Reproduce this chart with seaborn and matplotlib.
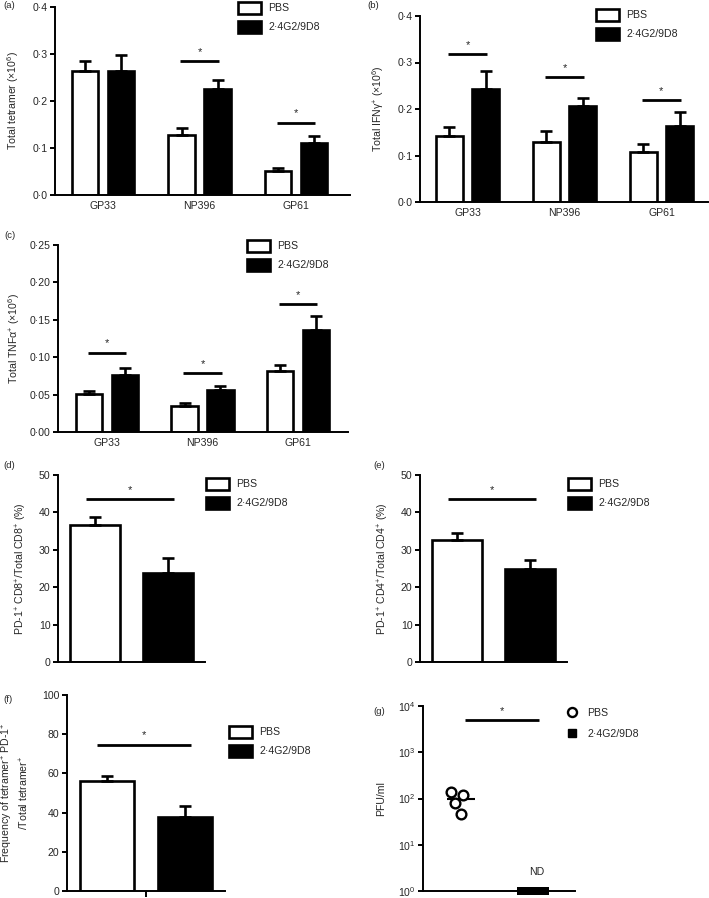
import numpy as np
import pandas as pd
import matplotlib
matplotlib.use('Agg')
import matplotlib.pyplot as plt
from matplotlib.patches import Patch
from matplotlib.lines import Line2D
from matplotlib.ticker import NullLocator
import seaborn as sns

sns.set_theme(style='ticks')
plt.rcParams['font.family'] = ['Liberation Sans', 'DejaVu Sans']
plt.rcParams['mathtext.fontset'] = 'custom'
plt.rcParams['mathtext.rm'] = 'Liberation Sans'
plt.rcParams['mathtext.it'] = 'Liberation Sans:italic'
plt.rcParams['mathtext.default'] = 'regular'

# --- data ---
groups = ['PBS', '2·4G2/9D8']
epitopes = ['GP33', 'NP396', 'GP61']

tet_pbs = [0.264, 0.128, 0.052]
tet_pbs_sem = [0.021, 0.014, 0.006]
tet_trt = [0.263, 0.226, 0.110]
tet_trt_sem = [0.034, 0.018, 0.016]
tet_sig = {'NP396': 0.285, 'GP61': 0.154}

ifn_pbs = [0.142, 0.130, 0.107]
ifn_pbs_sem = [0.019, 0.023, 0.018]
ifn_trt = [0.244, 0.206, 0.163]
ifn_trt_sem = [0.038, 0.018, 0.031]
ifn_sig = {'GP33': 0.318, 'NP396': 0.269, 'GP61': 0.219}

tnf_pbs = [0.051, 0.035, 0.081]
tnf_pbs_sem = [0.0035, 0.004, 0.009]
tnf_trt = [0.076, 0.056, 0.136]
tnf_trt_sem = [0.010, 0.006, 0.019]
tnf_sig = {'GP33': 0.106, 'NP396': 0.079, 'GP61': 0.171}

cd8_vals = [36.7, 23.7]
cd8_sem = [2.2, 4.1]
cd4_vals = [32.6, 24.9]
cd4_sem = [1.8, 2.3]
tetpd1_vals = [56.1, 37.9]
tetpd1_sem = [2.6, 5.5]
sig_d, sig_e, sig_f = 43.5, 43.5, 74.7

pfu_pbs = [139, 122, 78, 46]
pfu_trt = [1, 1, 1, 1]   # not detected, drawn at the detection floor
sig_g = 5000

ticks_tet = [0, 0.1, 0.2, 0.3, 0.4]
ticks_tnf = [0, 0.05, 0.10, 0.15, 0.20, 0.25]
ticks_pct50 = [0, 10, 20, 30, 40, 50]
ticks_pct100 = [0, 20, 40, 60, 80, 100]

W, H = 709, 898
pal = {groups[0]: 'white', groups[1]: 'black'}
LW = 1.9
FS = 7.6

fig = plt.figure(figsize=(W / 100, H / 100), dpi=100)


def rect(l, r, t, b):
    return [l / W, 1 - b / H, (r - l) / W, (b - t) / H]


def dot_labels(ticks, nd):
    return [f'{t:.{nd}f}'.replace('.', '·') for t in ticks]


def style_axis(ax, ylabel, labelpad=4):
    sns.despine(ax=ax)
    for s in ('left', 'bottom'):
        ax.spines[s].set_linewidth(1.4)
        ax.spines[s].set_color('black')
    ax.tick_params(axis='y', direction='out', length=3.5, width=1.4,
                   labelsize=FS, pad=2, color='black')
    ax.tick_params(axis='x', direction='out', length=4, width=1.4,
                   labelsize=FS, pad=2, color='black')
    ax.set_ylabel(ylabel, fontsize=FS, labelpad=labelpad)
    ax.set_xlabel('')
    ax.set_facecolor('none')


def bars(ax, cats, pbs, pbs_err, trt, trt_err, width, gap):
    df = pd.DataFrame({
        'cat': list(cats) * 2,
        'group': [groups[0]] * len(cats) + [groups[1]] * len(cats),
        'val': list(pbs) + list(trt),
    })
    sns.barplot(data=df, x='cat', y='val', hue='group', hue_order=groups,
                palette=pal, width=width, gap=gap, edgecolor='black',
                linewidth=LW, errorbar=None, legend=False, ax=ax)
    for cont, err in zip(ax.containers, [pbs_err, trt_err]):
        xs = [b.get_x() + b.get_width() / 2 for b in cont]
        ys = [b.get_height() for b in cont]
        ax.errorbar(xs, ys, yerr=[np.zeros(len(err)), err], fmt='none',
                    ecolor='black', elinewidth=LW, capsize=4.5,
                    capthick=LW, zorder=1)


def sig(ax, x0, x1, y):
    ax.plot([x0, x1], [y, y], color='black', lw=2, solid_capstyle='butt',
            clip_on=False)
    ax.annotate('*', ((x0 + x1) / 2, y), xytext=(0, 3),
                textcoords='offset points', ha='center', va='bottom',
                fontsize=8, annotation_clip=False)


def bar_legend(ax, px, py):
    handles = [Patch(facecolor=pal[g], edgecolor='black', linewidth=LW)
               for g in groups]
    ax.legend(handles=handles, labels=groups, loc='upper left',
              bbox_to_anchor=(px / W, 1 - py / H),
              bbox_transform=fig.transFigure, frameon=False, fontsize=FS,
              handlelength=2.15, handleheight=1.35, handletextpad=0.75,
              labelspacing=0.66, borderpad=0, borderaxespad=0)


def panel_label(px, py, s):
    fig.text(px / W, 1 - py / H, s, fontsize=6.8, va='center', ha='left')


# --- (a)-(c): grouped bars ---
grouped = [
    ('(a)', rect(55, 350, 7, 195), (-0.5, 2.56), tet_pbs, tet_pbs_sem,
     tet_trt, tet_trt_sem, tet_sig, ticks_tet, 1, 0.4,
     'Total tetramer (×10$^{6}$)', (238, 2), (3, 5), 8),
    ('(b)', rect(420, 708, 16, 202), (-0.49, 2.48), ifn_pbs, ifn_pbs_sem,
     ifn_trt, ifn_trt_sem, ifn_sig, ticks_tet, 1, 0.4,
     'Total IFNγ$^{+}$ (×10$^{6}$)', (596, 9), (367, 5), 8),
    ('(c)', rect(58, 348, 245, 432), (-0.51, 2.52), tnf_pbs, tnf_pbs_sem,
     tnf_trt, tnf_trt_sem, tnf_sig, ticks_tnf, 2, 0.25,
     'Total TNFα$^{+}$ (×10$^{6}$)', (247, 240), (4, 235), 5),
]
for lab, r, xl, p, pe, t, te, sg, tk, nd, ymax, ylab, lpos, ppos, lp in grouped:
    ax = fig.add_axes(r)
    bars(ax, epitopes, p, pe, t, te, width=0.75, gap=0.27)
    for cat, yv in sg.items():
        i = epitopes.index(cat)
        sig(ax, i - 0.2, i + 0.2, yv)
    ax.set_xlim(*xl)
    ax.set_ylim(0, ymax)
    ax.set_yticks(tk, labels=dot_labels(tk, nd))
    style_axis(ax, ylab, labelpad=lp)
    ax.tick_params(axis='x', length=0, pad=4)
    bar_legend(ax, *lpos)
    panel_label(*ppos, lab)

# --- (d)-(f): two-bar panels ---
single = [
    ('(d)', rect(58, 205, 475, 662), (-0.4, 0.4), cd8_vals, cd8_sem, sig_d,
     ticks_pct50, 'PD-1$^{+}$ CD8$^{+}$/Total CD8$^{+}$ (%)', (206, 478),
     (3, 465), 0.32, False, 7),
    ('(e)', rect(420, 567, 475, 662), (-0.4, 0.4), cd4_vals, cd4_sem, sig_e,
     ticks_pct50, 'PD-1$^{+}$ CD4$^{+}$/Total CD4$^{+}$ (%)', (568, 478),
     (373, 465), 0.32, False, 7),
    ('(f)', rect(67, 225, 695, 891), (-0.405, 0.405), tetpd1_vals, tetpd1_sem,
     sig_f, ticks_pct100,
     'Frequency of tetramer$^{+}$ PD-1$^{+}$\n/Total tetramer$^{+}$',
     (229, 726), (3, 699), 0.31, True, 8),
]
for lab, r, xl, vals, sems, sy, tk, ylab, lpos, ppos, gp, xtick, lp in single:
    ax = fig.add_axes(r)
    bars(ax, [''], vals[:1], sems[:1], vals[1:], sems[1:], width=0.8, gap=gp)
    sig(ax, -0.25, 0.23, sy)
    ax.set_xlim(*xl)
    ax.set_ylim(0, tk[-1])
    ax.set_yticks(tk, labels=[str(t) for t in tk])
    style_axis(ax, ylab, labelpad=lp)
    if not xtick:
        ax.tick_params(axis='x', length=0)
    ax.set_xticklabels([''])
    bar_legend(ax, *lpos)
    panel_label(*ppos, lab)

# --- (g): virus titre ---
axg = fig.add_axes(rect(423, 575, 706, 891))
axg.set_yscale('log')
axg.set_ylim(1, 1e4)
axg.set_xlim(-0.5, 1.5)
df_p = pd.DataFrame({'group': groups[0], 'pfu': pfu_pbs})
df_t = pd.DataFrame({'group': groups[1], 'pfu': pfu_trt})
sns.swarmplot(data=df_p, x='group', y='pfu', order=groups, marker='o',
              color='white', edgecolor='black', linewidth=1.7, size=7,
              ax=axg, zorder=3)
sns.swarmplot(data=df_t, x='group', y='pfu', order=groups, marker='s',
              color='black', size=5.5, linewidth=0, ax=axg, clip_on=False,
              zorder=4)
axg.hlines(np.mean(pfu_pbs), -0.18, 0.18, color='black', lw=1.5, zorder=2)
axg.text(1, 2.6, 'ND', ha='center', va='center', fontsize=FS)
sig(axg, 0.05, 1.03, sig_g)
axg.set_xlim(-0.5, 1.5)
axg.set_ylim(1, 1e4)
axg.yaxis.set_minor_locator(NullLocator())
style_axis(axg, 'PFU/ml', labelpad=8)
axg.tick_params(axis='x', length=0)
axg.set_xticklabels(['', ''])
g_handles = [
    Line2D([], [], ls='none', marker='o', mfc='white', mec='black',
           mew=1.7, ms=6.5),
    Line2D([], [], ls='none', marker='s', color='black', ms=5.5),
]
axg.legend(handles=g_handles, labels=groups, loc='upper left',
           bbox_to_anchor=(567 / W, 1 - 708 / H),
           bbox_transform=fig.transFigure, frameon=False, fontsize=FS,
           handlelength=1.0, handletextpad=0.9, labelspacing=1.0,
           borderpad=0, borderaxespad=0)
panel_label(373, 711, '(g)')

fig.savefig('out.png', dpi=100)
